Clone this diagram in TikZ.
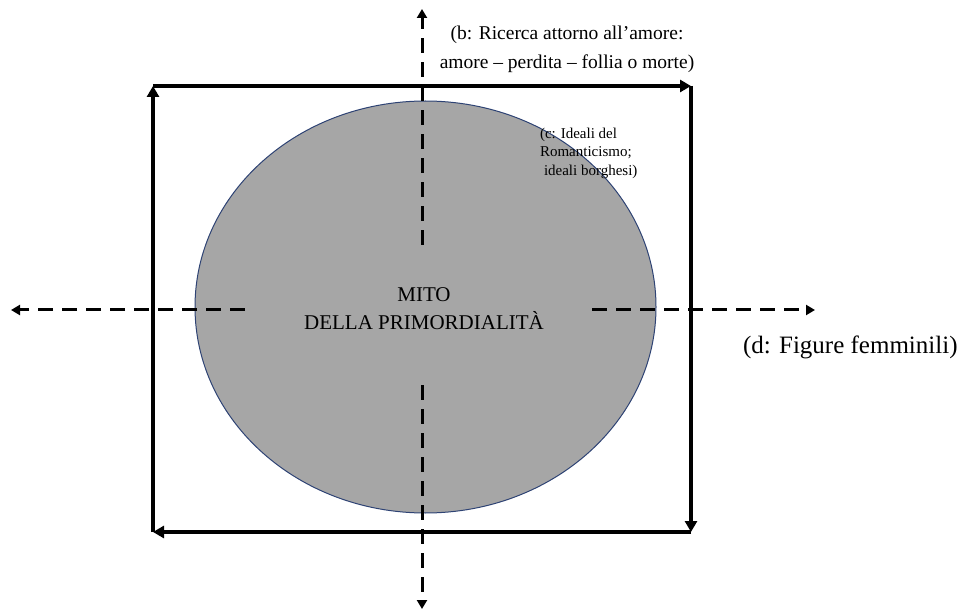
\documentclass[tikz,border=0pt]{standalone}
\usepackage{fontspec}
\setmainfont{Liberation Serif}
\usetikzlibrary{arrows.meta,shapes.geometric}
\definecolor{mythgray}{HTML}{A6A6A6}
\definecolor{mythedge}{HTML}{2E4374}
\tikzset{
  framearrow/.style={line width=3.4pt,-{Triangle[length=11pt,width=12pt]}},
  axisarrow/.style={line width=3pt,dash pattern=on 15pt off 9pt,-{Triangle[length=9pt,width=10pt]}},
  plain/.style={inner sep=0pt,outer sep=0pt}
}
\begin{document}
\begin{tikzpicture}[x=1pt,y=-1pt]
\useasboundingbox (0,0) rectangle (961,612);
% ellipse
\node[plain,ellipse,draw=mythedge,line width=1pt,fill=mythgray,minimum width=461pt,minimum height=412pt] (myth) at (425.5,307) {};
% frame corners
\coordinate (tl) at (153,86);
\coordinate (tr) at (691,86);
\coordinate (br) at (691,532);
\coordinate (bl) at (153,532);
\draw[framearrow] (bl) -- (tl);
\draw[framearrow] (tl) -- (tr);
\draw[framearrow] (tr) -- (br);
\draw[framearrow] (br) -- (bl);
% axes
\coordinate (vtop) at (422,9);
\coordinate (vtopin) at (422,245);
\coordinate (vbotin) at (422,385);
\coordinate (vbot) at (422,609);
\coordinate (hleft) at (11,310);
\coordinate (hleftin) at (245,310);
\coordinate (hrightin) at (592,310);
\coordinate (hright) at (815,310);
\draw[axisarrow] (vtopin) -- (vtop);
\draw[axisarrow] (vbotin) -- (vbot);
\draw[axisarrow] (hleftin) -- (hleft);
\draw[axisarrow] (hrightin) -- (hright);
% texts
\node[plain,align=center,font=\fontsize{19.5pt}{29pt}\selectfont] (btext) at (567,48.9) {(b: Ricerca attorno all’amore:\\amore – perdita – follia o morte)};
\node[plain,align=left,anchor=west,font=\fontsize{15pt}{18.5pt}\selectfont] (ctext) at (540,153) {(c: Ideali del\\Romanticismo;\\\hspace*{4pt}ideali borghesi)};
\node[plain,align=center,font=\fontsize{21pt}{28pt}\selectfont] (mythtext) at (424,309) {MITO\\DELLA PRIMORDIALITÀ};
\node[plain,anchor=base west,font=\fontsize{25pt}{30pt}\selectfont] (dtext) at (743,353) {(d: Figure femminili)};
\end{tikzpicture}
\end{document}
